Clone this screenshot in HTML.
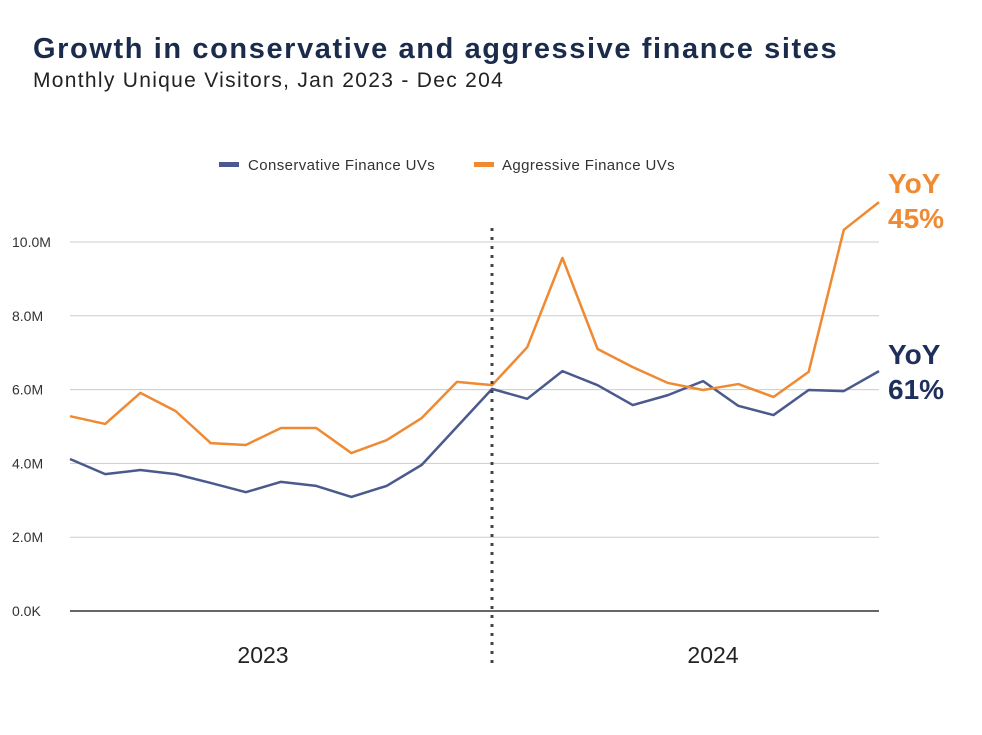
<!DOCTYPE html>
<html><head><meta charset="utf-8"><style>
body{margin:0;background:#fff;width:982px;height:735px;overflow:hidden;font-family:"Liberation Sans",sans-serif}
svg{display:block}
</style></head><body>
<svg id="chart" width="982" height="735">
<text x="33" y="58" font-size="29" font-weight="bold" fill="#1b2b4b" letter-spacing="1.6">Growth in conservative and aggressive finance sites</text>
<text x="33" y="87" font-size="21" fill="#222" letter-spacing="1.3">Monthly Unique Visitors, Jan 2023 - Dec 204</text>
<g>
<rect x="219" y="162" width="20" height="5" fill="#4a5a8e"/>
<text x="248" y="170" font-size="15" fill="#333" letter-spacing="0.4">Conservative Finance UVs</text>
<rect x="474" y="162" width="20" height="5" fill="#ef8a33"/>
<text x="502" y="170" font-size="15" fill="#333" letter-spacing="0.4">Aggressive Finance UVs</text>
</g>
<g id="grid"></g><g id="series"></g>
<line x1="492" y1="228" x2="492" y2="668" stroke="#444" stroke-width="3" stroke-dasharray="3,6"/>
<text x="263" y="663" font-size="23" fill="#222" text-anchor="middle">2023</text>
<text x="713" y="663" font-size="23" fill="#222" text-anchor="middle">2024</text>
<text x="888" y="193" font-size="28" font-weight="bold" fill="#ef8a33">YoY</text>
<text x="888" y="228" font-size="28" font-weight="bold" fill="#ef8a33">45%</text>
<text x="888" y="364" font-size="28" font-weight="bold" fill="#1f2f5c">YoY</text>
<text x="888" y="399" font-size="28" font-weight="bold" fill="#1f2f5c">61%</text>
</svg>
<script>
const months = ["Jan 23","Feb 23","Mar 23","Apr 23","May 23","Jun 23","Jul 23","Aug 23","Sep 23","Oct 23","Nov 23","Dec 23","Jan 24","Feb 24","Mar 24","Apr 24","May 24","Jun 24","Jul 24","Aug 24","Sep 24","Oct 24","Nov 24","Dec 24"];
const conservative = [4.12,3.71,3.82,3.71,3.47,3.22,3.50,3.39,3.09,3.39,3.96,4.99,6.02,5.75,6.50,6.12,5.58,5.85,6.23,5.56,5.31,5.99,5.96,6.50];
const aggressive = [5.28,5.07,5.91,5.42,4.55,4.50,4.96,4.96,4.28,4.63,5.23,6.21,6.12,7.15,9.57,7.10,6.61,6.18,5.99,6.15,5.80,6.48,10.33,11.08];
const yTicks = [0,2,4,6,8,10];
const yTickLabels = ["0.0K","2.0M","4.0M","6.0M","8.0M","10.0M"];
const NS="http://www.w3.org/2000/svg";
const x0=70,x1=879,yBase=611,pxPerM=36.9;
const xs=i=>x0+i*(x1-x0)/(months.length-1);
const ys=v=>yBase-v*pxPerM;
const grid=document.getElementById('grid'),ser=document.getElementById('series');
yTicks.forEach((t,i)=>{
 const l=document.createElementNS(NS,'line');
 l.setAttribute('x1',x0);l.setAttribute('x2',x1);l.setAttribute('y1',ys(t));l.setAttribute('y2',ys(t));
 l.setAttribute('stroke',t===0?'#333':'#ccc');l.setAttribute('stroke-width',t===0?1.5:1);
 
 
 grid.appendChild(l);
 const tx=document.createElementNS(NS,'text');
 tx.setAttribute('x',12);tx.setAttribute('y',ys(t)+5);tx.setAttribute('font-size','14');tx.setAttribute('fill','#333');
 tx.textContent=yTickLabels[i];
 
 
 grid.appendChild(tx);
});
function line(data,color,name){
 const p=document.createElementNS(NS,'polyline');
 p.setAttribute('points',data.map((v,i)=>xs(i)+','+ys(v)).join(' '));
 p.setAttribute('fill','none');p.setAttribute('stroke',color);p.setAttribute('stroke-width','2.5');p.setAttribute('stroke-linejoin','round');
 
 
 ser.appendChild(p);
}
line(conservative,'#4a5a8e','conservative-line');
line(aggressive,'#ef8a33','aggressive-line');
</script>
</body></html>
